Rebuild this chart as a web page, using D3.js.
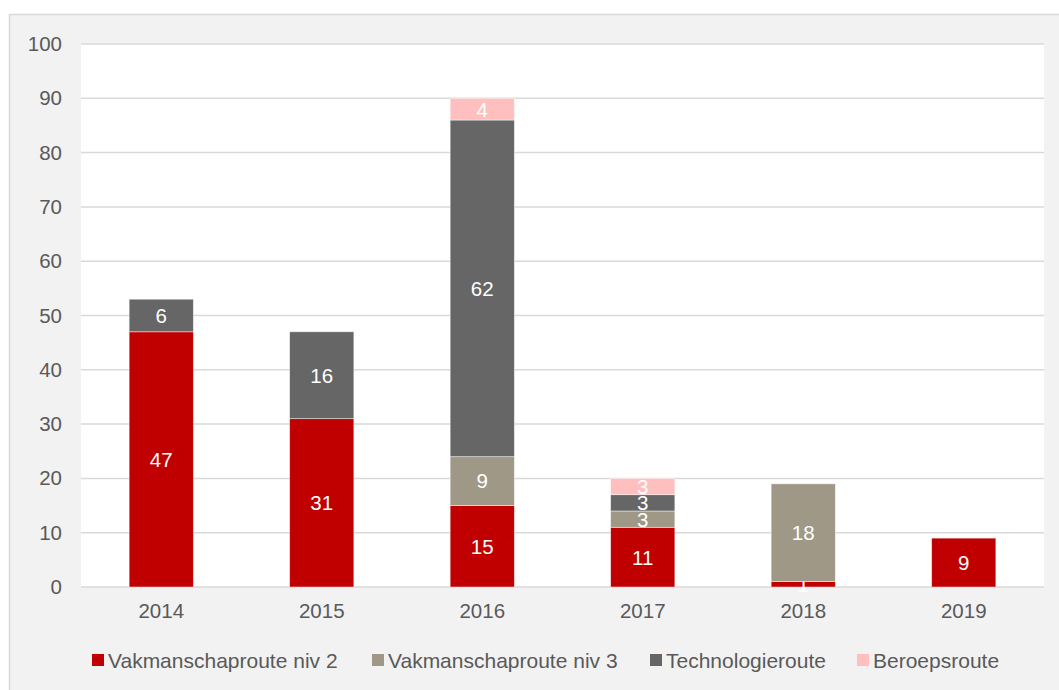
<!DOCTYPE html>
<html>
<head>
<meta charset="utf-8">
<script src="https://cdn.jsdelivr.net/npm/d3@7"></script>
<style>
  html, body { margin: 0; padding: 0; background: #ffffff; }
  svg { display: block; font-family: Arial, "Liberation Sans", sans-serif; }
</style>
</head>
<body>
<svg id="chart" width="1059" height="690"></svg>
<script>
// data
const years = ['2014', '2015', '2016', '2017', '2018', '2019'];
const seriesNames = ['Vakmanschaproute niv 2', 'Vakmanschaproute niv 3', 'Technologieroute', 'Beroepsroute'];
const niv2 = [47, 31, 15, 11, 1, 9];
const niv3 = [0, 0, 9, 3, 18, 0];
const techno = [6, 16, 62, 3, 0, 0];
const beroeps = [0, 0, 4, 3, 0, 0];
const yTicks = [0, 10, 20, 30, 40, 50, 60, 70, 80, 90, 100];
const colors = ['#c00000', '#a09886', '#666666', '#ffbfbf'];

const table = years.map((y, i) => ({
  year: y,
  s0: niv2[i], s1: niv3[i], s2: techno[i], s3: beroeps[i]
}));
const keys = ['s0', 's1', 's2', 's3'];

const svg = d3.select('#chart');
const margin = { top: 44, right: 15, bottom: 103, left: 81 };
const width = 1059 - margin.left - margin.right;
const height = 690 - margin.top - margin.bottom;

// outer grey box
svg.append('rect')
  .attr('x', 9.5).attr('y', 14.5)
  .attr('width', 1059).attr('height', 690)
  .attr('fill', '#f2f2f2')
  .attr('stroke', '#d9d9d9')
  .attr('stroke-width', 1.5);

const g = svg.append('g')
  .attr('transform', 'translate(' + margin.left + ',' + margin.top + ')');

const x = d3.scaleBand().domain(years).range([0, width]).paddingInner(0.6).paddingOuter(0.3);
const y = d3.scaleLinear().domain([0, 100]).range([height, 0]);

// plot area
g.append('rect')
  .attr('width', width).attr('height', height)
  .attr('fill', '#ffffff');

// gridlines
g.append('g')
  .selectAll('line')
  .data(yTicks)
  .join('line')
  .attr('x1', 0).attr('x2', width)
  .attr('y1', d => y(d)).attr('y2', d => y(d))
  .attr('stroke', '#d9d9d9')
  .attr('stroke-width', 1.5);

// y axis labels
const yAxis = g.append('g')
  .call(d3.axisLeft(y).tickValues(yTicks).tickSize(0).tickPadding(19));
yAxis.select('.domain').remove();
yAxis.selectAll('text')
  .attr('fill', '#595959')
  .style('font-size', '20.5px')
  .style('font-family', 'Arial, "Liberation Sans", sans-serif');

// x axis labels
const xAxis = g.append('g')
  .attr('transform', 'translate(0,' + height + ')')
  .call(d3.axisBottom(x).tickSize(0).tickPadding(16));
xAxis.select('.domain').remove();
xAxis.selectAll('text')
  .attr('fill', '#595959')
  .style('font-size', '20.5px')
  .style('font-family', 'Arial, "Liberation Sans", sans-serif');

// stacked bars
const stacked = d3.stack().keys(keys)(table);

const layers = g.append('g')
  .selectAll('g')
  .data(stacked)
  .join('g')
  .attr('fill', (d, i) => colors[i]);

layers.selectAll('rect')
  .data(d => d.filter(p => p[1] - p[0] > 0))
  .join('rect')
  .attr('x', d => x(d.data.year))
  .attr('y', d => y(d[1]))
  .attr('width', x.bandwidth())
  .attr('height', d => y(d[0]) - y(d[1]))
  .attr('stroke', 'rgba(255,255,255,0.6)')
  .attr('stroke-width', 0.75);

// data labels
layers.selectAll('text')
  .data(d => d.filter(p => p[1] - p[0] > 0))
  .join('text')
  .attr('x', d => x(d.data.year) + x.bandwidth() / 2)
  .attr('y', d => (y(d[0]) + y(d[1])) / 2)
  .attr('dy', '0.36em')
  .attr('text-anchor', 'middle')
  .attr('fill', '#ffffff')
  .style('font-size', '20.5px')
  .text(d => d[1] - d[0]);

// legend
const legendX = [92, 372, 650, 857];
const legend = svg.append('g')
  .selectAll('g')
  .data(seriesNames)
  .join('g')
  .attr('transform', (d, i) => 'translate(' + legendX[i] + ',654)');

legend.append('rect')
  .attr('width', 12).attr('height', 12)
  .attr('fill', (d, i) => colors[i]);

legend.append('text')
  .attr('x', 16).attr('y', 6)
  .attr('dy', '0.36em')
  .attr('fill', '#595959')
  .style('font-size', '21px')
  .text(d => d);
</script>
</body>
</html>
